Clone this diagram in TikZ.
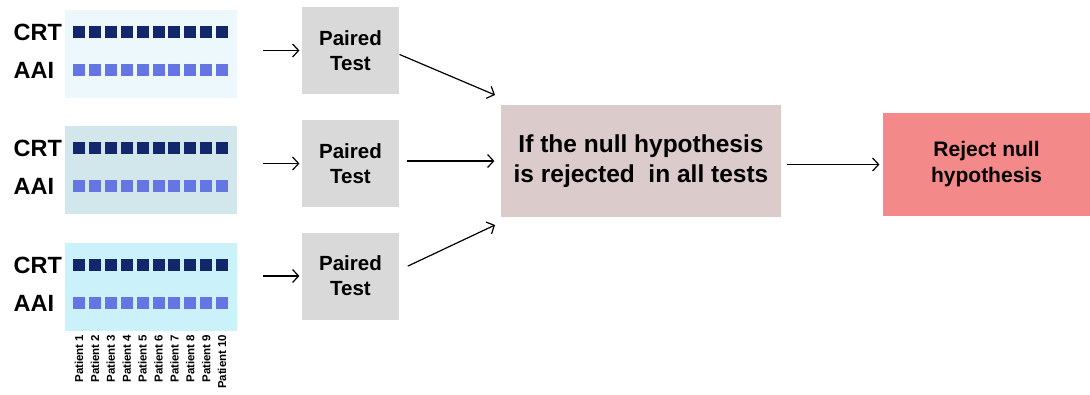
\documentclass[tikz,border=0pt]{standalone}
\usepackage{fontspec}
\setmainfont{Liberation Sans}
\usetikzlibrary{positioning,arrows.meta}

\definecolor{panelA}{HTML}{EDF8FD}
\definecolor{panelB}{HTML}{D2E7EB}
\definecolor{panelC}{HTML}{CBF1FA}
\definecolor{crtblue}{HTML}{13276C}
\definecolor{aaiblue}{HTML}{6576E4}
\definecolor{testgray}{HTML}{D9D9D9}
\definecolor{rulepink}{HTML}{DCCBCB}
\definecolor{rejectred}{HTML}{F4898A}

\begin{document}
\begin{tikzpicture}[x=1pt,y=-1pt,line width=1.2pt,>={Straight Barb[length=6pt,width=13pt]},
  panel/.style={minimum width=172pt,minimum height=88pt,inner sep=0pt},
  sq/.style={minimum size=12pt,inner sep=0pt},
  rowlab/.style={anchor=west,inner sep=0pt,font=\fontsize{23.5}{24}\selectfont\bfseries},
  testbox/.style={fill=testgray,minimum width=97pt,minimum height=87pt,align=center,font=\fontsize{20.5}{25}\selectfont\bfseries}]
\useasboundingbox (0,0) rectangle (1090,394);

% groups of patients
\foreach \g/\y/\c in {1/54/panelA,2/170/panelB,3/287/panelC}{
  \node[panel,fill=\c] (g\g) at (151,\y) {};
  \node[rowlab] (crt\g) at (13,\y-22) {CRT};
  \node[rowlab] (aai\g) at (13,\y+16) {AAI};
  \foreach \i in {1,...,10}{
    \node[sq,fill=crtblue] (c\g\i) at ({79+15.9*(\i-1)},\y-22) {};
    \node[sq,fill=aaiblue] (a\g\i) at ({79+15.9*(\i-1)},\y+16) {};
  }
}
\foreach \i in {1,...,10}
  \node[rotate=90,anchor=east,inner sep=0pt,font=\fontsize{11.5}{12}\selectfont\bfseries] (pat\i) at ({79+15.9*(\i-1)},334) {Patient \i};

% paired tests
\node[testbox] (t1) at (350.5,50.5) {Paired\\Test};
\node[testbox] (t2) at (350.5,163.5) {Paired\\Test};
\node[testbox] (t3) at (350.5,276) {Paired\\Test};

\foreach \g in {1,2,3}
  \draw[->,shorten <=25pt,shorten >=2pt] (g\g.east |- t\g.west) -- (t\g.west);

% decision
\node[fill=rulepink,minimum width=280pt,minimum height=112pt,align=center,font=\fontsize{24.5}{30}\selectfont\bfseries] (rule) at (641,161) {If the null hypothesis\\is rejected\ \ in all tests};
\node[fill=rejectred,minimum width=207pt,minimum height=103pt,align=center,font=\fontsize{21}{26}\selectfont\bfseries] (reject) at (986.5,164.5) {Reject null\\hypothesis};

\coordinate (h1) at (495,95);
\coordinate (h3) at (495,225);
\draw[->] ([yshift=-4pt]t1.east) -- (h1);
\draw[->,shorten <=7pt,shorten >=6pt] (t2.east |- rule.west) -- (rule.west);
\draw[->,shorten <=9pt] ([yshift=6pt]t3.east) -- (h3);
\draw[->,shorten <=5pt,shorten >=3pt] (rule.east |- reject.west) -- (reject.west);
\end{tikzpicture}
\end{document}
